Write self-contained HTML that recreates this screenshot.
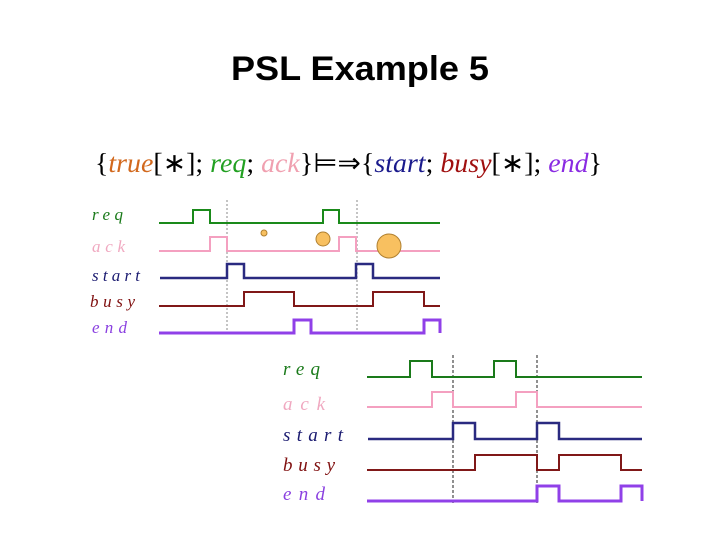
<!DOCTYPE html>
<html><head><meta charset="utf-8"><style>
html,body{margin:0;padding:0;background:#fff;width:720px;height:540px;overflow:hidden}
</style></head><body>
<svg width="720" height="540" xmlns="http://www.w3.org/2000/svg">
<text x="360" y="80" text-anchor="middle" font-family="Liberation Sans, sans-serif" font-size="34" font-weight="bold" fill="#000" textLength="258" lengthAdjust="spacingAndGlyphs">PSL Example 5</text>
<text x="95" y="172" font-family="Liberation Serif, serif" font-size="27" textLength="507" lengthAdjust="spacingAndGlyphs"><tspan fill="#000">{</tspan><tspan fill="#d2691e" font-style="italic">true</tspan><tspan fill="#000">[∗]; </tspan><tspan fill="#22a022" font-style="italic">req</tspan><tspan fill="#000">; </tspan><tspan fill="#f0a0b0" font-style="italic">ack</tspan><tspan fill="#000">}⊨⇒{</tspan><tspan fill="#1a1a8c" font-style="italic">start</tspan><tspan fill="#000">; </tspan><tspan fill="#a01010" font-style="italic">busy</tspan><tspan fill="#000">[∗]; </tspan><tspan fill="#8a2be2" font-style="italic">end</tspan><tspan fill="#000">}</tspan></text>

<g font-family="Liberation Serif, serif" font-style="italic" font-size="17" lengthAdjust="spacingAndGlyphs">
<text x="92" y="220" fill="#1a7a1a" textLength="31">req</text>
<text x="92" y="252" fill="#f0a8c0" textLength="33">ack</text>
<text x="92" y="281" fill="#1a1a70" textLength="48">start</text>
<text x="90" y="307" fill="#801010" textLength="45">busy</text>
<text x="92" y="333" fill="#8a40e0" textLength="35">end</text>
</g>
<g stroke="#888" stroke-width="1" stroke-dasharray="2,2">
<line x1="227" y1="200" x2="227" y2="336"/><line x1="357" y1="200" x2="357" y2="336"/>
</g>
<g fill="none" stroke-width="2">
<polyline stroke="#1a8a1a" points="159,223 193,223 193,210 210,210 210,223 323,223 323,210 339,210 339,223 440,223"/>
<polyline stroke="#f4a0c0" points="159,251 210,251 210,237 227,237 227,251 339,251 339,237 356,237 356,251 440,251"/>
<polyline stroke="#2a2a80" stroke-width="2.5" points="160,278 227,278 227,264 244,264 244,278 356,278 356,264 373,264 373,278 440,278"/>
<polyline stroke="#801818" points="159,306 244,306 244,292 294,292 294,306 373,306 373,292 424,292 424,306 440,306"/>
<polyline stroke="#9040e8" stroke-width="3" points="159,333 294,333 294,320 311,320 311,333 424,333 424,320 440,320 440,333"/>
</g>
<g fill="#f8c060" stroke="#b08030" stroke-width="1">
<circle cx="264" cy="233" r="3"/><circle cx="323" cy="239" r="7"/><circle cx="389" cy="246" r="12"/>
</g>

<g font-family="Liberation Serif, serif" font-style="italic" font-size="19" lengthAdjust="spacingAndGlyphs">
<text x="283" y="375" fill="#1a7a1a" textLength="37">req</text>
<text x="283" y="410" fill="#f0a8c0" textLength="42">ack</text>
<text x="283" y="441" fill="#1a1a70" textLength="60">start</text>
<text x="283" y="471" fill="#801010" textLength="52">busy</text>
<text x="283" y="500" fill="#8a40e0" textLength="42">end</text>
</g>
<g stroke="#222" stroke-width="1" stroke-dasharray="3,2">
<line x1="453" y1="355" x2="453" y2="505"/><line x1="537" y1="355" x2="537" y2="505"/>
</g>
<g fill="none" stroke-width="2">
<polyline stroke="#1a7a1a" points="367,377 410,377 410,361 432,361 432,377 494,377 494,361 516,361 516,377 642,377"/>
<polyline stroke="#f4a0c0" points="367,407 432,407 432,392 453,392 453,407 516,407 516,392 537,392 537,407 642,407"/>
<polyline stroke="#2a2a80" stroke-width="2.5" points="368,439 453,439 453,423 475,423 475,439 537,439 537,423 559,423 559,439 642,439"/>
<polyline stroke="#801818" points="367,470 475,470 475,455 537,455 537,470 559,470 559,455 621,455 621,470 642,470"/>
<polyline stroke="#9040e8" stroke-width="3" points="367,501 537,501 537,486 559,486 559,501 621,501 621,486 642,486 642,501"/>
</g>
</svg>
</body></html>
